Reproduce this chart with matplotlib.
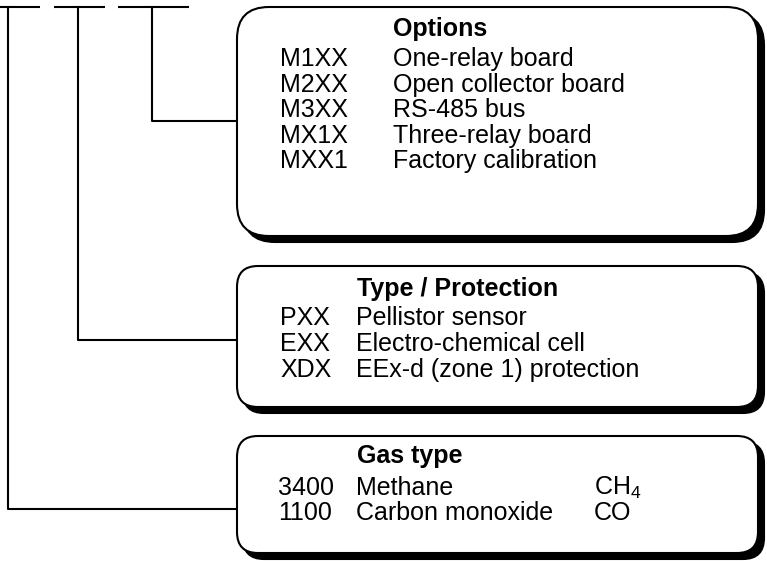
import matplotlib
matplotlib.use("Agg")
import matplotlib.pyplot as plt
from matplotlib.patches import FancyBboxPatch

plt.rcParams['font.family'] = ['Liberation Sans', 'DejaVu Sans']
plt.rcParams['mathtext.fontset'] = 'custom'
plt.rcParams['mathtext.rm'] = 'Liberation Sans'
plt.rcParams['mathtext.it'] = 'Liberation Sans:italic'
plt.rcParams['mathtext.bf'] = 'Liberation Sans:bold'

# ---- content ----
options_title = "Options"
options_codes = ["M1XX", "M2XX", "M3XX", "MX1X", "MXX1"]
options_desc = ["One-relay board", "Open collector board", "RS-485 bus",
                "Three-relay board", "Factory calibration"]

type_title = "Type / Protection"
type_codes = ["PXX", "EXX", "XDX"]
type_desc = ["Pellistor sensor", "Electro-chemical cell", "EEx-d (zone 1) protection"]

gas_title = "Gas type"
gas_codes = ["3400", "1100"]
gas_desc = ["Methane", "Carbon monoxide"]
gas_formula = [r"CH$_\mathrm{4}$", "CO"]

W, H = 767, 561
fig = plt.figure(figsize=(W / 100, H / 100), dpi=100)
ax = fig.add_axes([0, 0, 1, 1])
ax.set_xlim(0, W)
ax.set_ylim(H, 0)
ax.axis('off')

LW = 1.5
FS = 18
SH = 6


def box(x0, y0, x1, y1, r):
    sh = FancyBboxPatch((x0 + SH, y0 + SH), x1 - x0, y1 - y0,
                        boxstyle=f"round,pad=0,rounding_size={r}",
                        fc='black', ec='black', lw=LW, zorder=1)
    ax.add_patch(sh)
    b = FancyBboxPatch((x0, y0), x1 - x0, y1 - y0,
                       boxstyle=f"round,pad=0,rounding_size={r}",
                       fc='white', ec='black', lw=LW, zorder=2)
    ax.add_patch(b)


# top segments
for xa, xb in [(0, 40), (54, 105), (118, 189)]:
    ax.plot([xa, xb], [7, 7], color='black', lw=LW, solid_capstyle='butt')

# connectors
ax.plot([152, 152, 237], [7, 121, 121], color='black', lw=LW)
ax.plot([78, 78, 237], [7, 340, 340], color='black', lw=LW)
ax.plot([8, 8, 237], [7, 509, 509], color='black', lw=LW)

# boxes
box(237, 7, 758, 236, 32)
box(237, 266, 758, 407, 21)
box(237, 436, 758, 553, 21)

kw = dict(fontsize=FS, va='baseline', ha='left', zorder=3)

# Options text
ax.text(393, 36, options_title, fontweight='bold', **kw)
for i, (c, d) in enumerate(zip(options_codes, options_desc)):
    y = 66 + i * 25.5
    ax.text(280, y, c, **kw)
    ax.text(393, y, d, **kw)

# Type text
ax.text(357, 296, type_title, fontweight='bold', **kw)
for i, (c, d) in enumerate(zip(type_codes, type_desc)):
    y = 325 + i * 25.8
    ax.text(280, y, c, **kw)
    ax.text(356, y, d, **kw)

# Gas text
ax.text(357, 463, gas_title, fontweight='bold', **kw)
for i, (c, d, f) in enumerate(zip(gas_codes, gas_desc, gas_formula)):
    y = 495 + i * 25.5
    ax.text(278, y, c, **kw)
    ax.text(356, y, d, **kw)
    ax.text(594, y, f, **kw)

fig.savefig("out.png", dpi=100)
